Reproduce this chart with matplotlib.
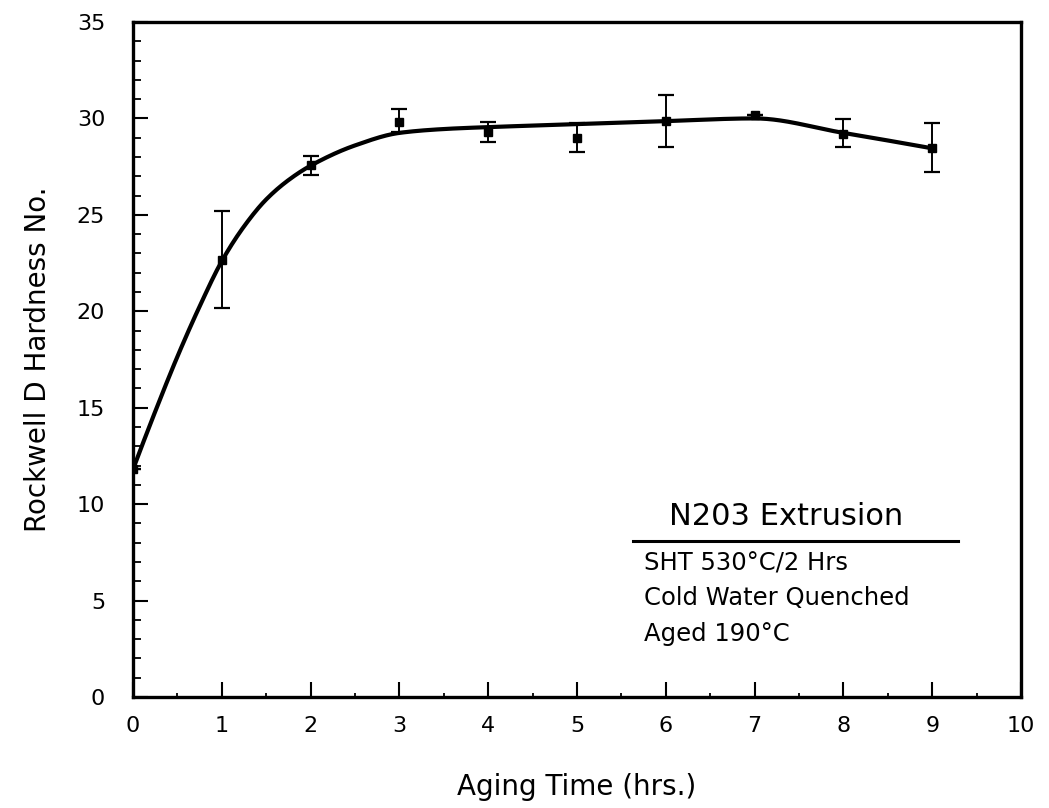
import numpy as np
import matplotlib
matplotlib.use("Agg")
import matplotlib.pyplot as plt

# ---- data ----
aging_time = [0, 1, 2, 3, 4, 5, 6, 7, 8, 9]
hardness = [11.8, 22.65, 27.6, 29.8, 29.3, 29.0, 29.85, 30.2, 29.2, 28.45]
err_lower = [11.8, 20.15, 27.05, 29.3, 28.8, 28.25, 28.5, 30.2, 28.5, 27.2]
err_upper = [11.8, 25.2, 28.05, 30.5, 29.8, 29.75, 31.2, 30.2, 29.95, 29.75]

# fitted curve knots
curve_x = [0, 0.25, 0.5, 0.75, 1, 1.25, 1.5, 1.75, 2, 2.5, 3, 3.5, 4, 5, 6, 7, 8, 9]
curve_y = [11.8, 14.8, 17.65, 20.25, 22.6, 24.4, 25.8, 26.8, 27.55, 28.6,
           29.25, 29.45, 29.55, 29.7, 29.86, 30.0, 29.25, 28.45]

x_ticks = list(range(0, 11))
y_ticks = list(range(0, 36, 5))

notes_title = "N203 Extrusion"
notes = ["SHT 530°C/2 Hrs", "Cold Water Quenched", "Aged 190°C"]


def pchip(xk, yk, xs):
    xk = np.asarray(xk, float)
    yk = np.asarray(yk, float)
    h = np.diff(xk)
    d = np.diff(yk) / h
    n = len(xk)
    m = np.zeros(n)
    for i in range(1, n - 1):
        if d[i - 1] * d[i] > 0:
            w1 = 2 * h[i] + h[i - 1]
            w2 = h[i] + 2 * h[i - 1]
            m[i] = (w1 + w2) / (w1 / d[i - 1] + w2 / d[i])
    m[0] = ((2 * h[0] + h[1]) * d[0] - h[0] * d[1]) / (h[0] + h[1])
    if m[0] * d[0] <= 0:
        m[0] = 0
    m[-1] = ((2 * h[-1] + h[-2]) * d[-1] - h[-1] * d[-2]) / (h[-1] + h[-2])
    if m[-1] * d[-1] <= 0:
        m[-1] = 0
    out = np.empty_like(xs)
    for j, x in enumerate(xs):
        i = min(max(np.searchsorted(xk, x) - 1, 0), n - 2)
        t = (x - xk[i]) / h[i]
        h00 = 2 * t ** 3 - 3 * t ** 2 + 1
        h10 = t ** 3 - 2 * t ** 2 + t
        h01 = -2 * t ** 3 + 3 * t ** 2
        h11 = t ** 3 - t ** 2
        out[j] = (h00 * yk[i] + h10 * h[i] * m[i] + h01 * yk[i + 1]
                  + h11 * h[i] * m[i + 1])
    return out


plt.rcParams['font.family'] = ['DejaVu Sans']

fig = plt.figure(figsize=(10.49, 8.08), dpi=100)
ax = fig.add_axes([133 / 1049, 1 - 697 / 808, (1021 - 133) / 1049, (697 - 22) / 808])

xs = np.linspace(curve_x[0], curve_x[-1], 600)
ax.plot(xs, pchip(curve_x, curve_y, xs), color='black', lw=3.0,
        solid_capstyle='round', zorder=3)

y = np.array(hardness)
yerr = np.vstack([y - np.array(err_lower), np.array(err_upper) - y])
ax.errorbar(aging_time, hardness, yerr=yerr, fmt='s', color='black', ms=6,
            ecolor='black', elinewidth=1.4, capsize=6, capthick=1.6, zorder=4)

ax.set_xlim(0, 10)
ax.set_ylim(0, 35)
ax.set_xticks(x_ticks)
ax.set_yticks(y_ticks)
ax.set_xticks(np.arange(0.5, 10, 1.0), minor=True)
ax.set_yticks(np.arange(0, 36, 1), minor=True)
ax.tick_params(which='major', direction='in', length=11, width=1.5,
               labelsize=16, top=False, right=False)
ax.tick_params(axis='x', which='major', pad=14)
ax.tick_params(axis='y', which='major', pad=20)
ax.tick_params(which='minor', direction='in', length=6, width=1.3,
               top=False, right=False)
ax.tick_params(axis='x', which='minor', length=3)
for s in ax.spines.values():
    s.set_linewidth(2.4)

ax.set_xlabel("Aging Time (hrs.)", fontsize=20, labelpad=26)
ax.set_ylabel("Rockwell D Hardness No.", fontsize=20, labelpad=18)

# annotation block
ax.text(0.735, 0.268, notes_title, transform=ax.transAxes, fontsize=22,
        ha='center', va='center')
ax.plot([0.563, 0.929], [0.231, 0.231], transform=ax.transAxes,
        color='black', lw=2.2)
for i, t in enumerate(notes):
    ax.text(0.575, 0.198 - i * 0.052, t, transform=ax.transAxes, fontsize=17.5,
            ha='left', va='center')

fig.savefig("out.png", dpi=100)
